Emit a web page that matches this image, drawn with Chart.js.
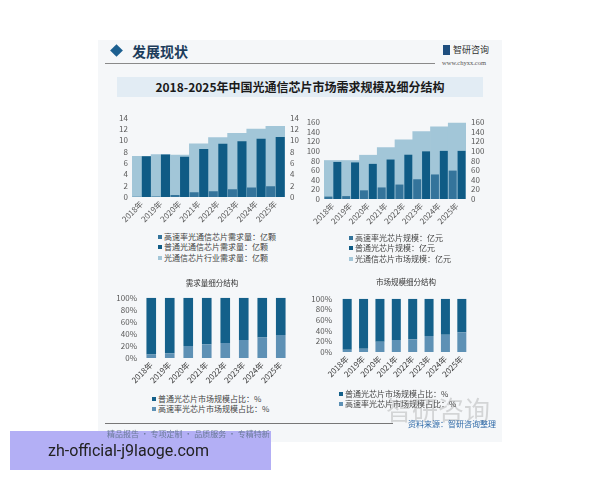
<!DOCTYPE html>
<html>
<head>
<meta charset="utf-8">
<script src="https://cdn.jsdelivr.net/npm/chart.js@4.4.1/dist/chart.umd.min.js"></script>
<style>
body { margin: 0; width: 600px; height: 480px; background: #fff; position: relative; overflow: hidden; font-family: "Noto Sans CJK SC", sans-serif; }
.abs { position: absolute; }
#panel { left: 98px; top: 40px; width: 404px; height: 402px; background: #f5f7f9; }
#diamond { left: 112px; top: 46px; width: 9px; height: 9px; background: #1c5f90; transform: rotate(45deg); }
#head { left: 132px; top: 42px; font-size: 14px; line-height: 18px; font-weight: bold; color: #1d3d5c; }
#headline { left: 105px; top: 63px; width: 330px; height: 1px; background: #8a8a8a; }
#logoicon { left: 443px; top: 45px; width: 7px; height: 10px; background: #1f4f7f; }
#logo { left: 453px; top: 44px; font-size: 9px; line-height: 12px; color: #333; }
#url { left: 442px; top: 59px; font-size: 6.5px; line-height: 8px; color: #555; font-family: "Liberation Serif", serif; }
#titlebar { left: 117px; top: 77px; width: 366px; height: 20px; background: #e2ecf4; text-align: center; font-size: 12px; line-height: 20px; font-weight: bold; color: #1a1a1a; }
canvas { position: absolute; }
.legend { position: absolute; font-size: 8px; color: #444; white-space: nowrap; }
.legend div { height: 10.3px; line-height: 10.3px; }
.legend span { display: inline-block; width: 4px; height: 4px; margin-right: 2px; vertical-align: 1px; }
.ctitle { position: absolute; font-size: 7.5px; line-height: 12px; color: #333; transform: translateX(-50%); white-space: nowrap; }
#footline { left: 105px; top: 423px; width: 288px; height: 1px; background: #777; }
#source { left: 408px; top: 418px; font-size: 8px; line-height: 12px; color: #2f6aa8; }
#slogan { left: 107px; top: 428px; font-size: 8px; line-height: 12px; color: #6a7a98; white-space: nowrap; }
#mark { left: 386px; top: 394px; font-size: 26px; line-height: 30px; color: rgba(150,150,150,0.35); }
#overlay { left: 10px; top: 431px; width: 261px; height: 39px; background: rgba(172,168,244,0.92); }
#overlay div { position: absolute; left: 38px; top: 0; font-family: Roboto, sans-serif; font-size: 16px; line-height: 39px; color: #222; }
</style>
</head>
<body>
<div class="abs" id="panel"></div>
<div class="abs" id="diamond"></div>
<div class="abs" id="head">发展现状</div>
<div class="abs" id="headline"></div>
<div class="abs" id="logoicon"></div>
<div class="abs" id="logo">智研咨询</div>
<div class="abs" id="url">www.chyxx.com</div>
<div class="abs" id="titlebar">2018-2025年中国光通信芯片市场需求规模及细分结构</div>

<canvas id="demand_chart" width="200" height="122" style="left:105px;top:108px"></canvas>
<canvas id="market_chart" width="191" height="120" style="left:297px;top:112px"></canvas>
<canvas id="demand_share_chart" width="185" height="103" style="left:110px;top:288px"></canvas>
<canvas id="market_share_chart" width="175" height="98" style="left:300px;top:287px"></canvas>

<div class="legend" id="demand_legend" style="left:158px;top:232px"></div>
<div class="legend" id="market_legend" style="left:349px;top:233px"></div>
<div class="ctitle" style="left:212px;top:277px">需求量细分结构</div>
<div class="ctitle" style="left:406px;top:276px">市场规模细分结构</div>
<div class="legend" id="demand_share_legend" style="left:152px;top:394px"></div>
<div class="legend" id="market_share_legend" style="left:339px;top:389px"></div>

<div class="abs" id="mark">智研咨询</div>
<div class="abs" id="footline"></div>
<div class="abs" id="source">资料来源：智研咨询整理</div>
<div class="abs" id="overlay"><div>zh-official-j9laoge.com</div></div>
<div class="abs" id="slogan">精品报告 · 专项定制 · 品质服务 · 专精特新</div>

<script>
var years = ['2018年', '2019年', '2020年', '2021年', '2022年', '2023年', '2024年', '2025年'];

// 需求量：亿颗
var demandHigh = [0.05, 0.1, 0.35, 0.85, 1.0, 1.35, 1.7, 1.9];
var demandNormal = [7.2, 7.5, 7.1, 8.5, 9.4, 9.85, 10.3, 10.6];
var demandTotal = [7.2, 7.5, 7.4, 9.4, 10.5, 11.25, 12.0, 12.5];

// 市场规模：亿元
var marketHigh = [5, 6, 18, 24, 30, 41, 51, 59];
var marketNormal = [77, 76, 73, 82, 92, 99, 100, 100];
var marketTotal = [80, 80, 91, 107, 123, 140, 150, 158];

// 细分结构：%
var demandHighShare = [6, 8, 20, 23, 25, 30, 34, 38];
var demandNormalShare = [94, 92, 80, 77, 75, 70, 66, 62];
var marketHighShare = [4, 6, 19.5, 22.5, 24, 30, 32.5, 37];
var marketNormalShare = [96, 94, 80.5, 77.5, 76, 70, 67.5, 63];

var light = '#a2c6d8';
var dark = '#0f5b85';
var mid = '#34749b';
var shareDark = '#14608a';
var shareLight = '#5e91b5';

Chart.defaults.font.family = '"Noto Sans CJK SC", sans-serif';
Chart.defaults.font.size = 8;
Chart.defaults.color = '#595959';
Chart.defaults.animation = false;

function fixed_width(w) {
    return function(axis) { axis.width = w; };
}

function value_axis(pos, max, step, w, pad, cb) {
    return {
        position: pos,
        min: 0,
        max: max,
        grid: { display: false, drawTicks: false },
        border: { display: false },
        ticks: { stepSize: step, padding: pad, autoSkip: false, callback: cb },
        afterFit: fixed_width(w)
    };
}

function year_axis(stacked, color) {
    return {
        stacked: stacked,
        grid: { display: false, drawTicks: false },
        border: { display: false },
        ticks: { autoSkip: false, minRotation: 45, maxRotation: 45, padding: 2, color: color },
        afterFit: function(axis) { axis.height = 33; }
    };
}

function draw_size_chart(id, high, normal, total, names, max, step, leftW, rightW, padTop, barPct) {
    return new Chart(document.getElementById(id), {
        type: 'bar',
        data: {
            labels: years,
            datasets: [
                { label: names[0], data: high, backgroundColor: mid, yAxisID: 'y', order: 1,
                  categoryPercentage: 1, barPercentage: barPct },
                { label: names[1], data: normal, backgroundColor: dark, yAxisID: 'y', order: 1,
                  categoryPercentage: 1, barPercentage: barPct },
                { label: names[2], data: total, backgroundColor: light, yAxisID: 'y2', order: 2,
                  grouped: false, categoryPercentage: 1, barPercentage: 1 }
            ]
        },
        options: {
            responsive: false,
            layout: { padding: { top: padTop } },
            plugins: { legend: { display: false }, tooltip: { enabled: false } },
            scales: {
                x: year_axis(false, '#595959'),
                y: value_axis('left', max, step, leftW, 4),
                y2: value_axis('right', max, step, rightW, 5)
            }
        }
    });
}

function draw_share_chart(id, high, normal, names, leftW, pad, barPct) {
    return new Chart(document.getElementById(id), {
        type: 'bar',
        data: {
            labels: years,
            datasets: [
                { label: names[1], data: high, backgroundColor: shareLight, categoryPercentage: 1, barPercentage: barPct },
                { label: names[0], data: normal, backgroundColor: shareDark, categoryPercentage: 1, barPercentage: barPct }
            ]
        },
        options: {
            responsive: false,
            layout: { padding: { top: 7, right: 5 } },
            plugins: { legend: { display: false }, tooltip: { enabled: false } },
            scales: {
                x: year_axis(true, '#404040'),
                y: Object.assign(value_axis('left', 100, 20, leftW, pad, function(v) { return v + '%'; }), { stacked: true })
            }
        }
    });
}

function draw_legend(id, names, colors) {
    var box = document.getElementById(id);
    names.forEach(function(name, i) {
        var line = document.createElement('div');
        var sq = document.createElement('span');
        sq.style.background = colors[i];
        line.appendChild(sq);
        line.appendChild(document.createTextNode(name));
        box.appendChild(line);
    });
}

var demandNames = ['高速率光通信芯片需求量：亿颗', '普通光通信芯片需求量：亿颗', '光通信芯片行业需求量：亿颗'];
var marketNames = ['高速率光芯片规模：亿元', '普通光芯片规模：亿元', '光通信芯片市场规模：亿元'];
var shareNames = ['普通光芯片市场规模占比：%', '高速率光芯片市场规模占比：%'];

draw_size_chart('demand_chart', demandHigh, demandNormal, demandTotal, demandNames, 14, 2, 27, 20, 7, 0.95);
draw_size_chart('market_chart', marketHigh, marketNormal, marketTotal, marketNames, 160, 20, 27, 22, 10, 0.9);
draw_share_chart('demand_share_chart', demandHighShare, demandNormalShare, shareNames, 32, 5, 0.52);
draw_share_chart('market_share_chart', marketHighShare, marketNormalShare, shareNames, 39, 7, 0.55);

draw_legend('demand_legend', demandNames, [mid, dark, light]);
draw_legend('market_legend', marketNames, [mid, dark, light]);
draw_legend('demand_share_legend', shareNames, [shareDark, shareLight]);
draw_legend('market_share_legend', shareNames, [shareDark, shareLight]);
</script>
</body>
</html>
